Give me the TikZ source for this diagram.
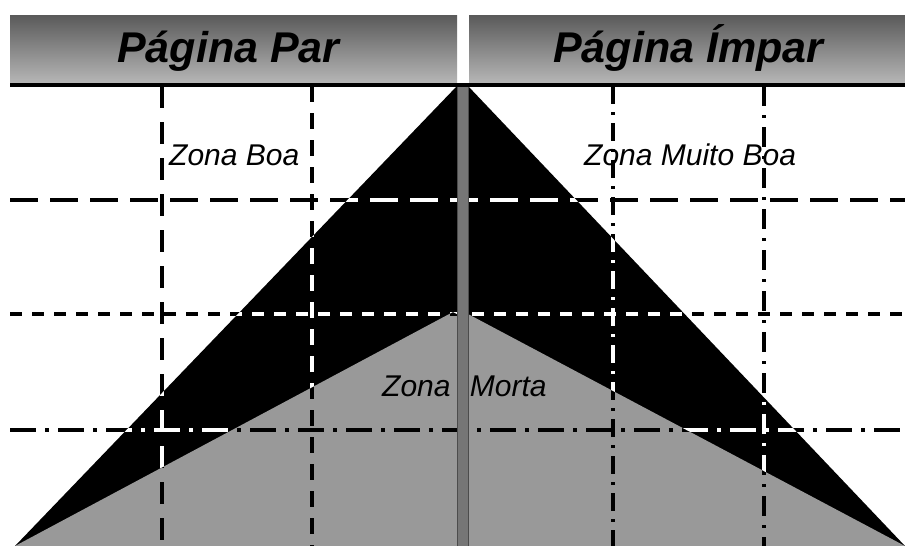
\documentclass[tikz,border=0pt]{standalone}
\usepackage{fontspec}
\setmainfont{Liberation Sans}
\definecolor{deadgray}{RGB}{153,153,153}
\definecolor{spinegray}{RGB}{118,118,118}
\definecolor{hdtop}{RGB}{90,90,90}
\definecolor{hdbot}{RGB}{182,182,182}
\newcommand\mygrid[1]{%
  \draw[gridline,#1,dash pattern=on 28pt off 12pt] (10,200) -- (905,200);
  \draw[gridline,#1,dash pattern=on 12pt off 10pt] (10,314) -- (905,314);
  \draw[gridline,#1,dash pattern=on 26pt off 9pt on 4pt off 9pt] (10,430) -- (905,430);
  \draw[gridline,#1,dash pattern=on 22pt off 14pt] (162,86) -- (162,546);
  \draw[gridline,#1,dash pattern=on 16pt off 11pt] (312,86) -- (312,546);
  \draw[gridline,#1,dash pattern=on 18pt off 8pt on 3pt off 8pt] (613,86) -- (613,546);
  \draw[gridline,#1,dash pattern=on 20pt off 9pt on 3pt off 9pt] (764,86) -- (764,546);
}
\begin{document}
\begin{tikzpicture}[x=1pt,y=-1pt,
  gridline/.style={line width=3.4pt},
  header/.style={top color=hdtop,bottom color=hdbot,draw=none},
  hdtext/.style={inner sep=0pt,anchor=base west,text=black,font=\fontsize{43}{43}\selectfont\bfseries\itshape},
  zonetext/.style={inner sep=0pt,anchor=base west,font=\fontsize{30}{30}\selectfont\itshape}]
\useasboundingbox (0,0) rectangle (905,546);
\fill[white] (0,0) rectangle (905,546);
% black zones
\fill[black] (15,546) -- (457,86) -- (457,546) -- cycle;
\fill[black] (468,86) -- (905,546) -- (468,546) -- cycle;
% dead zone
\fill[deadgray] (15,546) -- (453,312) -- (457,314) -- (457,546) -- cycle;
\fill[deadgray] (468,314) -- (905,546) -- (468,546) -- cycle;
% grid, black everywhere
\mygrid{black}
% grid, white over black zones
\begin{scope}
  \clip (15,546) -- (457,86) -- (457,314) -- (453,312) -- cycle
        (468,86) -- (905,546) -- (468,314) -- cycle;
  \mygrid{white}
\end{scope}
% spine
\fill[spinegray,draw=black!70,line width=0.6pt] (457,84) rectangle (468,546);
% headers
\shade[header] (10,15) rectangle (457,83);
\shade[header] (469,15) rectangle (905,83);
\draw[line width=4pt] (10,84.5) -- (905,84.5);
% texts
\node[hdtext] (par) at (117,62) {Página Par};
\node[hdtext] (impar) at (553,62) {Página Ímpar};
\node[zonetext] (boa) at (169,165) {Zona Boa};
\node[zonetext] (muitoboa) at (584,165) {Zona Muito Boa};
\node[zonetext] (morta) at (382,396) {Zona\hspace{11pt} Morta};
\end{tikzpicture}
\end{document}
